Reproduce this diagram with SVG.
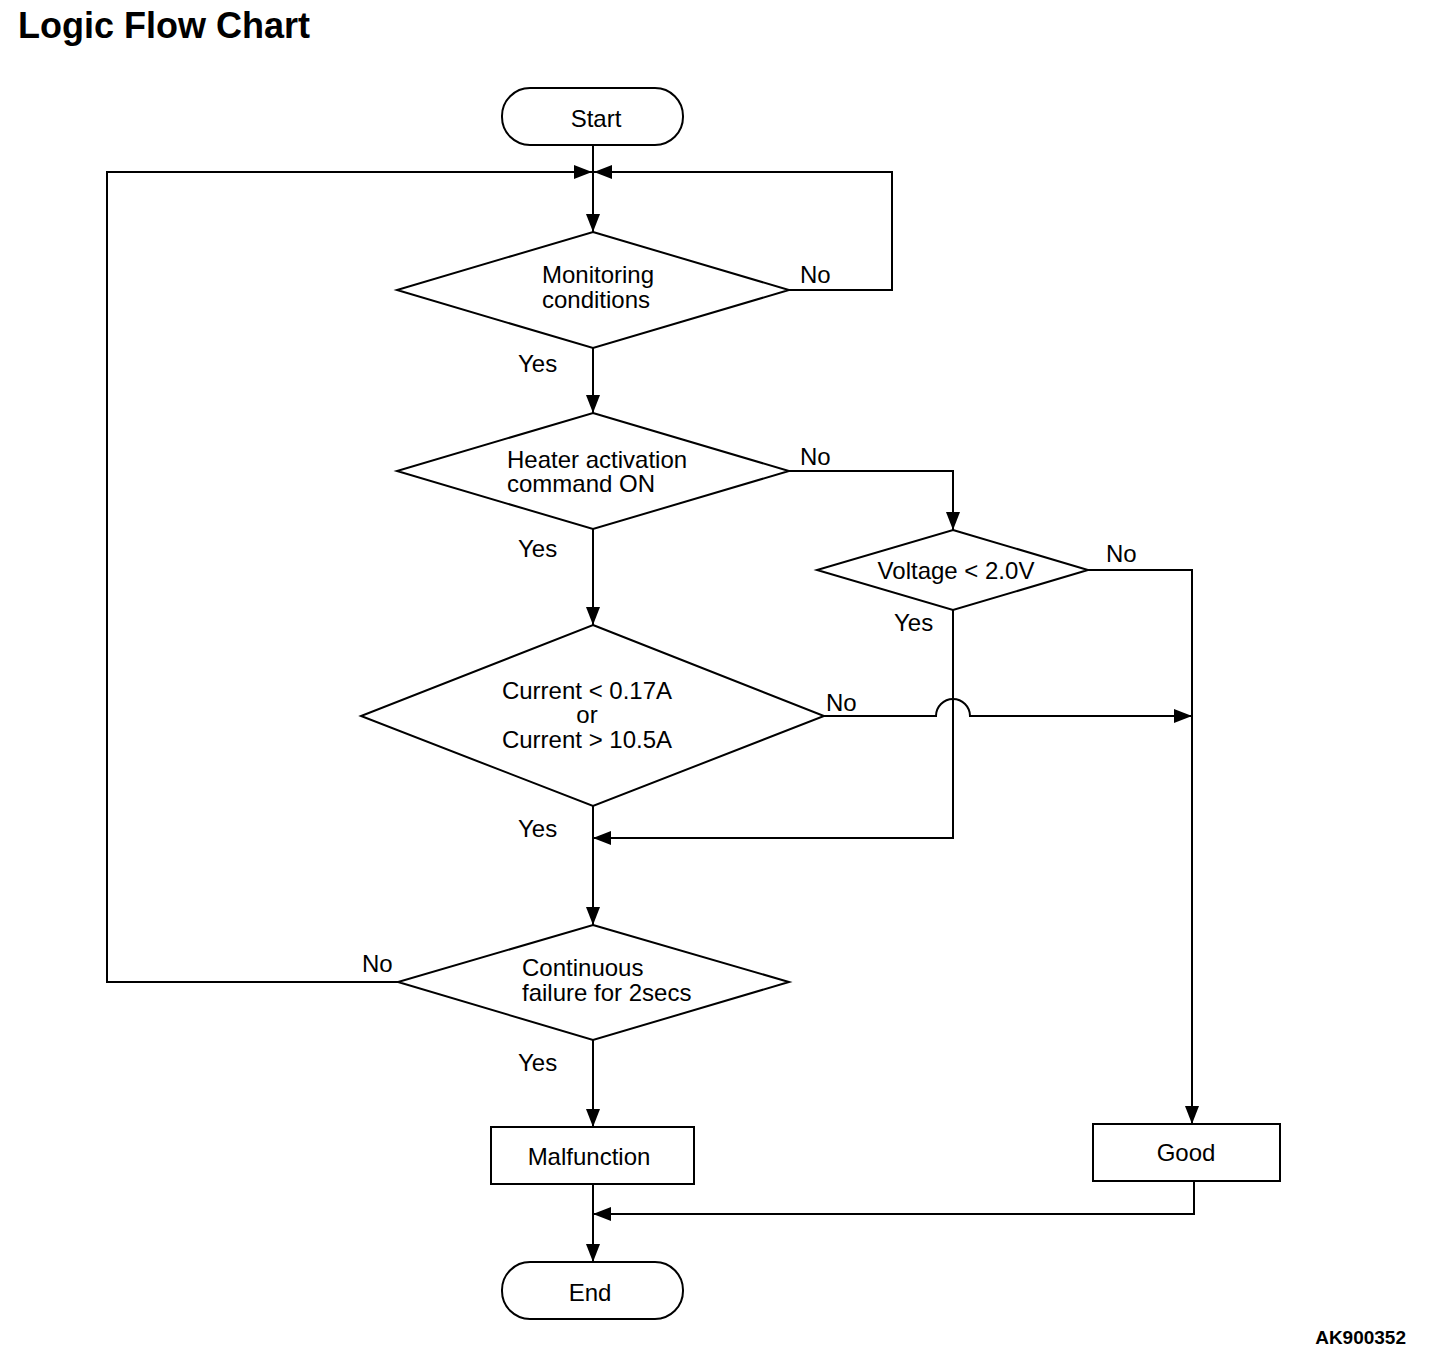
<svg xmlns="http://www.w3.org/2000/svg" width="1456" height="1358" viewBox="0 0 1456 1358">
<defs>
<marker id="ah" viewBox="0 0 18 14" refX="18" refY="7" markerWidth="18" markerHeight="14" markerUnits="userSpaceOnUse" orient="auto">
<path d="M0,0 L18,7 L0,14 Z" fill="#000"/>
</marker>
</defs>
<style>
.s{fill:#fff;stroke:#000;stroke-width:2}
.c{fill:none;stroke:#000;stroke-width:2}
.t{font-family:"Liberation Sans",Arial,sans-serif;font-size:24px;fill:#000}
.m{text-anchor:middle}
</style>
<rect width="1456" height="1358" fill="#fff"/>
<text x="18" y="38" font-family="Liberation Sans,Arial,sans-serif" font-size="36" font-weight="bold">Logic Flow Chart</text>
<g id="connectors">
<path class="c" d="M593,145 V232" marker-end="url(#ah)"/>
<path class="c" d="M789,290 H892 V172 H594" marker-end="url(#ah)"/>
<path class="c" d="M398,982 H107 V172 H592" marker-end="url(#ah)"/>
<path class="c" d="M593,348 V413" marker-end="url(#ah)"/>
<path class="c" d="M789,471 H953 V530" marker-end="url(#ah)"/>
<path class="c" d="M1088,570 H1192 V1124" marker-end="url(#ah)"/>
<path class="c" d="M953,610 V838 H593" marker-end="url(#ah)"/>
<path class="c" d="M593,529 V625" marker-end="url(#ah)"/>
<path class="c" d="M824,716 H936 A17,17 0 0 1 970,716 H1192" marker-end="url(#ah)"/>
<path class="c" d="M593,806 V925" marker-end="url(#ah)"/>
<path class="c" d="M593,1040 V1127" marker-end="url(#ah)"/>
<path class="c" d="M1194,1181 V1214 H593" marker-end="url(#ah)"/>
<path class="c" d="M593,1184 V1262" marker-end="url(#ah)"/>
</g>
<g id="start"><rect class="s" x="502" y="88" width="181" height="57" rx="28"/><text class="t m" x="596" y="127">Start</text></g>
<g id="monitoring"><polygon class="s" points="593,232 789,290 593,348 397,290"/><text class="t m" x="598" y="283">Monitoring</text><text class="t m" x="596" y="308">conditions</text></g>
<g id="heater"><polygon class="s" points="593,413 789,471 593,529 397,471"/><text class="t" x="507" y="468">Heater activation</text><text class="t" x="507" y="492">command ON</text></g>
<g id="voltage"><polygon class="s" points="953,530 1088,570 953,610 817,570"/><text class="t m" x="956" y="579">Voltage &lt; 2.0V</text></g>
<g id="current"><polygon class="s" points="593,625 824,716 593,806 361,716"/><text class="t m" x="587" y="699">Current &lt; 0.17A</text><text class="t m" x="587" y="723">or</text><text class="t m" x="587" y="748">Current &gt; 10.5A</text></g>
<g id="continuous"><polygon class="s" points="593,925 789,982 593,1040 398,982"/><text class="t" x="522" y="976">Continuous</text><text class="t" x="522" y="1001">failure for 2secs</text></g>
<g id="malfunction"><rect class="s" x="491" y="1127" width="203" height="57"/><text class="t m" x="589" y="1165">Malfunction</text></g>
<g id="good"><rect class="s" x="1093" y="1124" width="187" height="57"/><text class="t m" x="1186" y="1161">Good</text></g>
<g id="end"><rect class="s" x="502" y="1262" width="181" height="57" rx="28"/><text class="t m" x="590" y="1301">End</text></g>
<g id="labels">
<text class="t" x="800" y="283">No</text>
<text class="t" x="518" y="372">Yes</text>
<text class="t" x="800" y="465">No</text>
<text class="t" x="518" y="557">Yes</text>
<text class="t" x="1106" y="562">No</text>
<text class="t" x="894" y="631">Yes</text>
<text class="t" x="826" y="711">No</text>
<text class="t" x="518" y="837">Yes</text>
<text class="t" x="362" y="972">No</text>
<text class="t" x="518" y="1071">Yes</text>
</g>
<text x="1406" y="1344" text-anchor="end" font-family="Liberation Sans,Arial,sans-serif" font-size="19" font-weight="bold">AK900352</text>
</svg>
